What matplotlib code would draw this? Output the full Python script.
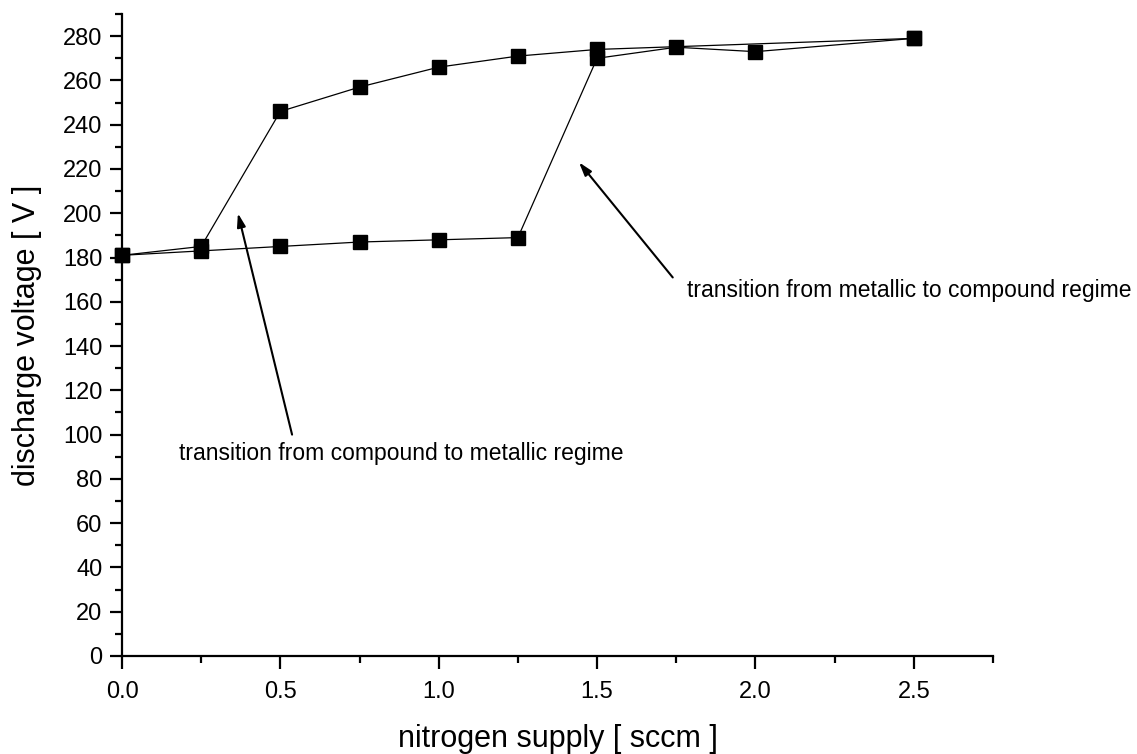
import matplotlib
matplotlib.use('Agg')
import matplotlib.pyplot as plt
from matplotlib.ticker import MultipleLocator

# nitrogen supply going up (metallic -> compound)
flow_up = [0.0, 0.25, 0.5, 0.75, 1.0, 1.25, 1.5, 1.75, 2.0, 2.5]
volt_up = [181, 183, 185, 187, 188, 189, 270, 275, 273, 279]

# nitrogen supply going down (compound -> metallic)
flow_down = [2.5, 1.5, 1.25, 1.0, 0.75, 0.5, 0.25, 0.0]
volt_down = [279, 274, 271, 266, 257, 246, 185, 181]

plt.rcParams['font.family'] = ['Liberation Sans', 'DejaVu Sans']

fig = plt.figure(figsize=(11.37, 7.54), dpi=100)
ax = fig.add_axes([0.1073, 0.130, 0.766, 0.8514])

ax.plot(flow_up, volt_up, color='black', lw=0.9, marker='s', ms=9.5,
        mfc='black', mec='black', clip_on=False, zorder=3)
ax.plot(flow_down, volt_down, color='black', lw=0.9, marker='s', ms=9.5,
        mfc='black', mec='black', clip_on=False, zorder=3)

ax.set_xlim(0, 2.75)
ax.set_ylim(0, 290)
ax.xaxis.set_major_locator(MultipleLocator(0.5))
ax.xaxis.set_minor_locator(MultipleLocator(0.25))
ax.yaxis.set_major_locator(MultipleLocator(20))
ax.yaxis.set_minor_locator(MultipleLocator(10))
ax.xaxis.set_major_formatter(plt.FormatStrFormatter('%.1f'))

ax.spines['top'].set_visible(False)
ax.spines['right'].set_visible(False)
ax.spines['left'].set_linewidth(1.6)
ax.spines['bottom'].set_linewidth(1.6)
ax.tick_params(which='major', direction='out', length=9, width=1.6,
               labelsize=17, pad=5)
ax.tick_params(axis='x', which='major', pad=9)
ax.tick_params(which='minor', direction='out', length=4.8, width=1.6)

ax.set_xlabel('nitrogen supply [ sccm ]', fontsize=22, labelpad=15)
ax.set_ylabel('discharge voltage [ V ]', fontsize=22, labelpad=15)

arrow = dict(arrowstyle='-|>,head_length=0.8,head_width=0.25', color='black',
             lw=1.5, shrinkA=0, shrinkB=0)
ax.annotate('', xy=(0.366, 200), xytext=(0.537, 100), arrowprops=arrow)
ax.text(0.18, 91.4, 'transition from compound to metallic regime',
        fontsize=16.5, ha='left', va='center')
ax.annotate('', xy=(1.443, 223), xytext=(1.739, 171), arrowprops=arrow)
ax.text(1.783, 165.3, 'transition from metallic to compound regime',
        fontsize=16.5, ha='left', va='center')

fig.savefig('out.png', dpi=100)
